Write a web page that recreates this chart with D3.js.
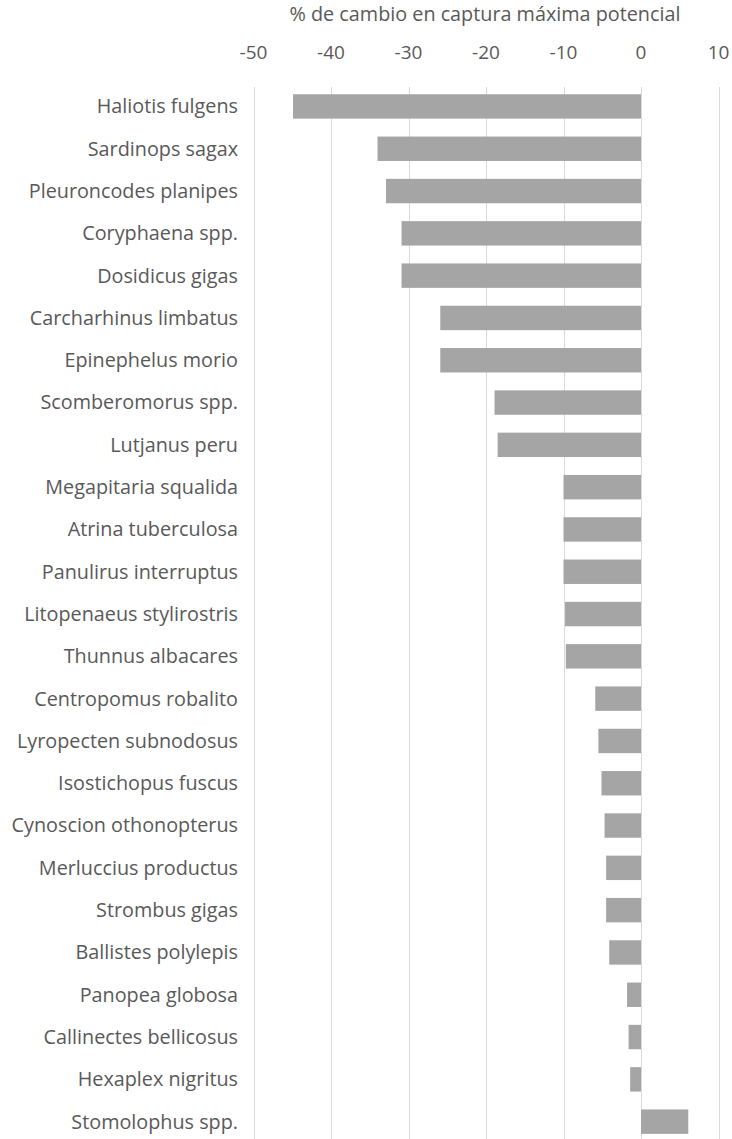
<!DOCTYPE html>
<meta charset="utf-8">
<style>
body { margin: 0; background: #fff; }
.grid line { stroke: #d9d9d9; stroke-width: 1px; }
.axis text, .label, .title { fill: #595959; font-family: "Open Sans", sans-serif; }
.bar { fill: #a5a5a5; }
</style>
<svg width="732" height="1139"></svg>
<script src="https://d3js.org/d3.v7.min.js"></script>
<script>
var species = ["Haliotis fulgens", "Sardinops sagax", "Pleuroncodes planipes", "Coryphaena spp.",
  "Dosidicus gigas", "Carcharhinus limbatus", "Epinephelus morio", "Scomberomorus spp.",
  "Lutjanus peru", "Megapitaria squalida", "Atrina tuberculosa", "Panulirus interruptus",
  "Litopenaeus stylirostris", "Thunnus albacares", "Centropomus robalito", "Lyropecten subnodosus",
  "Isostichopus fuscus", "Cynoscion othonopterus", "Merluccius productus", "Strombus gigas",
  "Ballistes polylepis", "Panopea globosa", "Callinectes bellicosus", "Hexaplex nigritus",
  "Stomolophus spp."];
var change = [-44.9, -34.0, -32.9, -30.9, -30.9, -25.9, -25.9, -18.9, -18.5, -10.0, -10.0, -10.0,
  -9.8, -9.7, -5.9, -5.5, -5.1, -4.7, -4.5, -4.5, -4.1, -1.8, -1.6, -1.4, 6.1];
var ticks = [-50, -40, -30, -20, -10, 0, 10];
var title = "% de cambio en captura máxima potencial";

var svg = d3.select("svg");

var x = d3.scaleLinear().domain([-50, 10]).range([253.5, 718.5]);
var y = d3.scaleBand().domain(species).range([85.3, 1142.8]).paddingInner(0.423).paddingOuter(0.2115);

// gridlines
svg.append("g").attr("class", "grid")
  .selectAll("line").data(ticks).join("line")
    .attr("x1", function(d) { return Math.round(x(d)) + 0.5; })
    .attr("x2", function(d) { return Math.round(x(d)) + 0.5; })
    .attr("y1", 87).attr("y2", 1139);

// top axis labels
svg.append("g").attr("class", "axis")
  .selectAll("text").data(ticks).join("text")
    .attr("x", function(d) { return x(d); })
    .attr("y", 59)
    .attr("text-anchor", "middle")
    .style("font-size", "19px")
    .text(function(d) { return d; });

svg.append("text").attr("class", "title")
  .attr("x", 485).attr("y", 21)
  .attr("text-anchor", "middle")
  .style("font-size", "19.8px")
  .text(title);

svg.append("g")
  .selectAll("rect").data(change).join("rect")
    .attr("class", "bar")
    .attr("x", function(d) { return x(Math.min(0, d)); })
    .attr("width", function(d) { return Math.abs(x(d) - x(0)); })
    .attr("y", function(d, i) { return y(species[i]); })
    .attr("height", y.bandwidth());

svg.append("g")
  .selectAll("text").data(species).join("text")
    .attr("class", "label")
    .attr("x", 238)
    .attr("y", function(d) { return y(d) + y.bandwidth() / 2; })
    .attr("dy", "0.35em")
    .attr("text-anchor", "end")
    .style("font-size", "19.8px")
    .text(function(d) { return d; });
</script>
